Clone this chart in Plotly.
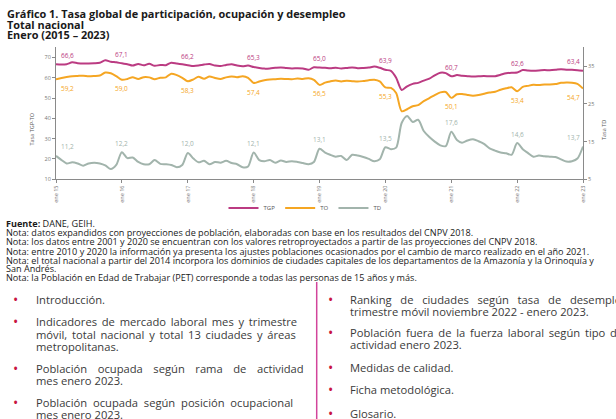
import pandas as pd
import plotly.graph_objects as go

W, H = 616, 419

# ---------------- data ----------------
start_month = "2015-01-01"
tick_labels = ["ene 15", "ene 16", "ene 17", "ene 18", "ene 19", "ene 20", "ene 21", "ene 22", "ene 23"]

tgp = [
    66.6, 66.5, 66.7, 67.6, 67.2, 67.0, 67.0, 67.1, 67.4, 68.6, 67.9, 67.6,
    67.1, 66.7, 66.0, 66.8, 66.1, 66.9, 65.9, 66.3, 66.2, 67.4, 67.0, 66.6,
    66.2, 65.8, 66.0, 66.5, 66.8, 66.0, 65.8, 66.3, 66.6, 66.0, 65.7, 66.0,
    65.3, 64.8, 64.5, 64.6, 64.9, 65.1, 64.8, 64.6, 64.7, 64.6, 63.9, 65.2,
    65.0, 64.9, 64.7, 64.9, 64.6, 64.8, 65.1, 64.7, 64.8, 65.0, 65.5, 64.9,
    63.9, 63.4, 60.0, 54.0, 55.8, 57.0, 57.5, 58.6, 59.6, 61.2, 62.5, 62.3,
    60.7, 61.3, 61.0, 60.8, 60.6, 60.7, 60.9, 60.7, 60.8, 61.5, 62.2, 62.5,
    62.6, 63.8, 63.6, 63.5, 63.6, 63.8, 63.7, 63.9, 64.2, 64.0, 63.9, 63.7,
    63.4,
]
to = [
    59.2, 59.9, 60.4, 60.8, 60.9, 61.0, 60.8, 60.9, 61.1, 62.6, 62.2, 60.8,
    59.0, 59.4, 60.3, 59.4, 60.3, 60.2, 59.3, 60.0, 60.2, 62.0, 61.3, 60.0,
    58.3, 59.2, 60.5, 59.5, 60.6, 59.9, 59.4, 60.2, 60.6, 60.3, 60.8, 60.0,
    57.4, 58.2, 58.8, 59.2, 59.3, 59.5, 59.4, 59.3, 59.6, 59.4, 59.8, 59.0,
    56.5, 57.6, 58.2, 58.6, 58.2, 58.5, 58.3, 58.1, 58.4, 58.8, 59.0, 58.2,
    55.3, 55.0, 52.5, 43.5, 44.5, 46.0, 46.5, 48.5, 50.0, 51.5, 52.8, 53.0,
    50.1, 51.9, 52.0, 51.5, 51.2, 51.5, 52.1, 52.7, 53.1, 54.1, 54.8, 55.3,
    53.4, 55.5, 56.0, 56.5, 56.4, 56.7, 56.7, 56.9, 57.5, 57.7, 57.6, 57.0,
    54.7,
]
td = [
    11.2, 10.1, 9.2, 9.5, 9.2, 8.6, 9.2, 9.4, 9.2, 8.7, 7.7, 8.8,
    12.2, 10.6, 10.8, 9.6, 9.0, 9.0, 10.1, 9.1, 9.0, 8.8, 8.2, 8.8,
    12.0, 10.5, 9.5, 9.9, 9.0, 9.6, 9.4, 9.9, 9.3, 9.0, 8.2, 8.4,
    12.1, 10.1, 9.8, 10.1, 9.4, 10.0, 9.6, 9.8, 9.6, 9.3, 9.0, 9.6,
    13.1, 12.1, 11.5, 11.0, 11.2, 10.1, 11.5, 11.3, 10.9, 10.4, 9.8, 10.3,
    13.5, 13.0, 13.4, 20.0, 21.8, 20.2, 20.8, 17.8, 16.2, 15.0, 14.0, 13.8,
    17.6, 15.4, 14.7, 15.3, 15.6, 15.1, 14.4, 13.2, 12.6, 12.1, 11.9, 11.5,
    14.6, 13.0, 12.0, 11.0, 11.3, 11.1, 11.0, 10.9, 10.3, 9.7, 9.8, 10.5,
    13.7,
]

C_TGP, C_TO, C_TD = "#BB3B82", "#F5A623", "#A2B4AC"
FONT = "Open Sans"
NB = "\u00a0"
THIN = "\u2009"

months = pd.date_range(start_month, periods=len(tgp), freq="MS")
jan_idx = list(range(0, len(tgp), 12))
tick_vals = [months[i] for i in jan_idx]


def px(x):
    return x / W


def py(y):
    return 1 - y / H


def spread(text, gap):
    return text.replace(" ", " " + gap) if gap else text


fig = go.Figure()
for name, vals, col, ax in [("TGP", tgp, C_TGP, "y"), ("TO", to, C_TO, "y"), ("TD", td, C_TD, "y2")]:
    fig.add_trace(go.Scatter(
        x=months, y=vals, name=name, mode="lines", yaxis=ax,
        line=dict(color=col, width=2, shape="spline", smoothing=0.8),
        hoverinfo="skip",
    ))

ann = []
# data labels at each January
for series, col, yref, dy in [(tgp, C_TGP, "y", 9), (to, C_TO, "y", -9), (td, C_TD, "y2", 9)]:
    for k, i in enumerate(jan_idx):
        xs = 0
        if k == 0:
            xs = 11
        elif k == len(jan_idx) - 1:
            xs = -10
        ann.append(dict(
            x=months[i], y=series[i], xref="x", yref=yref,
            text=f"{series[i]:.1f}".replace(".", ","), showarrow=False,
            xshift=xs, yshift=dy, font=dict(size=6.5, color=col, family=FONT),
        ))

# axis titles
ann.append(dict(x=px(25), y=py(111), xref="paper", yref="paper", text="Tasa TGP-TO",
                textangle=-90, showarrow=False, font=dict(size=5.5, color="#555", family=FONT)))
ann.append(dict(x=px(610), y=py(118), xref="paper", yref="paper", text="Tasa TD",
                textangle=-90, showarrow=False, font=dict(size=5.5, color="#555", family=FONT)))

# title
title_lines = [
    ("Gráfico 1. Tasa global de participación, ocupación y desempleo", 13.3),
    ("Total nacional", 24.3),
    ("Enero (2015 – 2023)", 35),
]
for t, y in title_lines:
    ann.append(dict(x=px(6), y=py(y), xref="paper", yref="paper", xanchor="left", yanchor="middle",
                    text=f"<b>{t}</b>", showarrow=False, borderpad=0,
                    font=dict(size=10.9, color="#1a1a1a", family=FONT)))

# notes
notes = [
    ("<b>Fuente:</b> DANE, GEIH.", 223.3),
    ("Nota: datos expandidos con proyecciones de población, elaboradas con base en los resultados del CNPV 2018.", 232.5),
    ("Nota: los datos entre 2001 y 2020 se encuentran con los valores retroproyectados a partir de las proyecciones del CNPV 2018.", 241.7),
    ("Nota: entre 2010 y 2020 la información ya presenta los ajustes poblaciones ocasionados por el cambio de marco realizado en el año 2021.", 251),
    ("Nota: el total nacional a partir del 2014 incorpora los dominios de ciudades capitales de los departamentos de la Amazonía y la Orinoquía y", 260),
    ("San Andrés.", 268.7),
    ("Nota: la Población en Edad de Trabajar (PET) corresponde a todas las personas de 15 años y más.", 277.3),
]
for t, y in notes:
    ann.append(dict(x=px(5), y=py(y), xref="paper", yref="paper", xanchor="left", yanchor="middle",
                    text=t, showarrow=False, borderpad=0,
                    font=dict(size=9.1, color="#1a1a1a", family=FONT)))

# bullet lists (text, y, bullet?, extra gap for justification)
left_lines = [
    ("Introducción.", 299.3, True, ""),
    ("Indicadores de mercado laboral mes y trimestre", 321.7, True, THIN),
    ("móvil, total nacional y total 13 ciudades y áreas", 334.3, False, THIN),
    ("metropolitanas.", 346.5, False, ""),
    ("Población ocupada según rama de actividad", 368.3, True, NB * 2 + THIN),
    ("mes enero 2023.", 380.5, False, ""),
    ("Población ocupada según posición ocupacional", 402.3, True, NB),
    ("mes enero 2023.", 414.3, False, ""),
]
right_lines = [
    ("Ranking de ciudades según tasa de desempleo", 299.3, True, NB * 2),
    ("trimestre móvil noviembre 2022 - enero 2023.", 311.7, False, ""),
    ("Población fuera de la fuerza laboral según tipo de", 332.3, True, THIN),
    ("actividad enero 2023.", 344.3, False, ""),
    ("Medidas de calidad.", 367.7, True, ""),
    ("Ficha metodológica.", 389.3, True, ""),
    ("Glosario.", 413.3, True, ""),
]
for lines, xb, xt in [(left_lines, 15, 35), (right_lines, 330, 349)]:
    for t, y, bullet, gap in lines:
        ann.append(dict(x=px(xt), y=py(y), xref="paper", yref="paper", xanchor="left", yanchor="middle",
                        text=spread(t, gap), showarrow=False, borderpad=0,
                        font=dict(size=11.2, color="#3a3a3a", family=FONT)))
        if bullet:
            ann.append(dict(x=px(xb), y=py(y), xref="paper", yref="paper", xanchor="center", yanchor="middle",
                            text="•", showarrow=False, borderpad=0,
                            font=dict(size=14, color="#C8143F", family=FONT)))

shapes = [dict(type="line", xref="paper", yref="paper", x0=px(316.7), x1=px(316.7), y0=py(282), y1=0,
               line=dict(color="#D2449B", width=1.5))]

axis_common = dict(showgrid=False, zeroline=False, showline=True, linecolor="#8a8a8a", linewidth=1,
                   ticks="outside", ticklen=3, tickcolor="#8a8a8a", automargin=False,
                   tickfont=dict(size=5.5, color="#777", family=FONT))

fig.update_layout(
    width=W, height=H, margin=dict(l=0, r=0, t=0, b=0),
    paper_bgcolor="white", plot_bgcolor="white",
    xaxis=dict(domain=[px(56), px(583)], range=[months[0], months[-1]], tickvals=tick_vals,
               ticktext=tick_labels, tickangle=-90, **axis_common),
    yaxis=dict(domain=[py(179.3), py(47.3)], range=[10, 75], tickvals=[10, 20, 30, 40, 50, 60, 70],
               **axis_common),
    yaxis2=dict(overlaying="y", side="right", anchor="x", range=[5, 40], tickvals=[5, 15, 25, 35],
                **axis_common),
    legend=dict(orientation="h", x=px(305), xanchor="center", y=py(208), yanchor="middle",
                font=dict(size=6, color="#555", family=FONT), bgcolor="rgba(0,0,0,0)",
                itemwidth=30, tracegroupgap=0),
    showlegend=True,
    annotations=ann,
    shapes=shapes,
)

fig.write_html("out.html", config={"displayModeBar": False},
               post_script="document.body.style.margin='0px';")
